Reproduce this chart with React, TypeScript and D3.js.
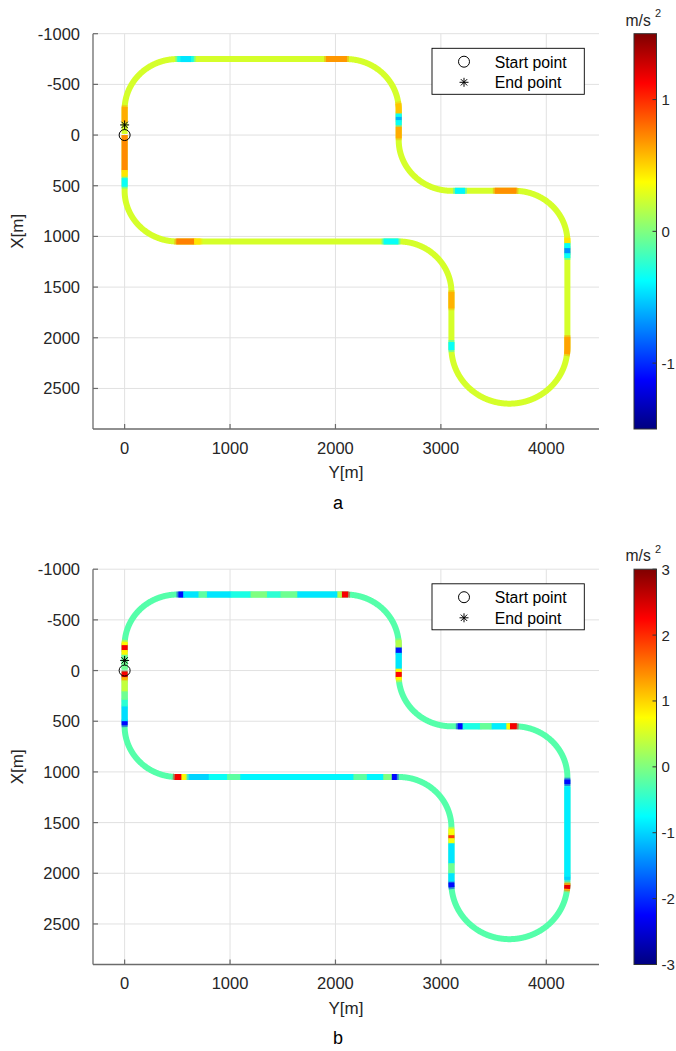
import React from 'react';
import * as d3 from 'd3';

// ---------- data ----------
const xTicks = [0, 1000, 2000, 3000, 4000];
const yTicks = [-1000, -500, 0, 500, 1000, 1500, 2000, 2500];
const xDomain: [number, number] = [-300, 4500];
const yDomain: [number, number] = [-1000, 2900];

// track geometry: points are [Y, X] in metres; arc angles in degrees (Y = cY + r cos a, X = cX + r sin a)
type Seg =
  | { kind: 'line'; from: [number, number]; to: [number, number] }
  | { kind: 'arc'; c: [number, number]; r: number; a0: number; a1: number };

const trackSegments: Seg[] = [
  { kind: 'line', from: [0, 0], to: [0, 550] },
  { kind: 'arc', c: [500, 550], r: 500, a0: 180, a1: 90 },
  { kind: 'line', from: [500, 1050], to: [2600, 1050] },
  { kind: 'arc', c: [2600, 1550], r: 500, a0: -90, a1: 0 },
  { kind: 'line', from: [3100, 1550], to: [3100, 2100] },
  { kind: 'arc', c: [3650, 2100], r: 550, a0: 180, a1: 0 },
  { kind: 'line', from: [4200, 2100], to: [4200, 1050] },
  { kind: 'arc', c: [3700, 1050], r: 500, a0: 0, a1: -90 },
  { kind: 'line', from: [3700, 550], to: [3100, 550] },
  { kind: 'arc', c: [3100, 50], r: 500, a0: 90, a1: 180 },
  { kind: 'line', from: [2600, 50], to: [2600, -250] },
  { kind: 'arc', c: [2100, -250], r: 500, a0: 0, a1: -90 },
  { kind: 'line', from: [2100, -750], to: [500, -750] },
  { kind: 'arc', c: [500, -250], r: 500, a0: -90, a1: -180 },
  { kind: 'line', from: [0, -250], to: [0, -10] },
];

const startPoint: [number, number] = [0, 0];
const endPoint: [number, number] = [0, -100];

// acceleration profile: [segment index, from (m along segment), to (m), value m/s^2]
const baseA = 0.25;
const eventsA: [number, number, number, number][] = [
  [0, 0, 345, 0.72],
  [0, 345, 410, 0.45],
  [0, 425, 510, -0.35],
  [2, -10, 160, 0.75],
  [2, 160, 220, 0.45],
  [2, 1956, 2098, -0.35],
  [4, -3, 161, 0.6],
  [4, 491, 572, -0.35],
  [6, -62, 109, 0.65],
  [6, 886, 935, -0.35],
  [6, 935, 985, -0.7],
  [6, 985, 1034, -0.35],
  [6, 1034, 1083, 0.45],
  [8, -18, 189, 0.7],
  [8, 471, 566, -0.4],
  [10, 17, 132, 0.62],
  [10, 148, 198, -0.35],
  [10, 198, 231, -0.6],
  [10, 231, 264, -0.35],
  [10, 264, 363, 0.55],
  [12, -10, 190, 0.68],
  [12, 1444, 1601, -0.3],
  [12, 1470, 1570, -0.45],
  [14, -29, 119, 0.62],
];

const baseB = -0.25;
const eventsB: [number, number, number, number][] = [
  [0, 10, 66, 2.3],
  [0, 66, 99, 1.2],
  [0, 99, 207, 0.4],
  [0, 207, 289, -0.1],
  [0, 289, 355, -0.5],
  [0, 355, 500, -0.95],
  [0, 500, 540, -2.2],
  [2, -25, 40, 2.3],
  [2, 40, 80, 0.8],
  [2, 109, 299, -1.0],
  [2, 299, 472, -0.7],
  [2, 472, 598, -0.2],
  [2, 598, 1672, -0.8],
  [2, 1672, 1798, -0.2],
  [2, 1798, 1955, -0.8],
  [2, 1955, 2035, 0.0],
  [2, 2035, 2082, -2.2],
  [4, 10, 75, 0.7],
  [4, 75, 105, 1.9],
  [4, 105, 155, 0.7],
  [4, 155, 352, -0.9],
  [4, 352, 450, -0.1],
  [4, 450, 532, -0.9],
  [4, 542, 588, -2.2],
  [5, 1660, 1675, 1.2],
  [5, 1675, 1715, 2.4],
  [5, 1715, 1728, 1.2],
  [6, 35, 68, -1.0],
  [6, 68, 956, -0.85],
  [6, 979, 1025, -2.2],
  [8, -20, 45, 2.3],
  [8, 45, 80, 0.8],
  [8, 80, 220, -0.85],
  [8, 220, 330, -0.15],
  [8, 330, 495, -0.6],
  [8, 495, 540, -2.2],
  [9, 740, 773, 0.8],
  [10, -12, 37, 2.2],
  [10, 37, 70, 0.8],
  [10, 70, 225, -0.9],
  [10, 225, 278, -2.1],
  [10, 280, 350, 0.3],
  [12, -20, 40, 2.3],
  [12, 40, 83, 0.3],
  [12, 83, 463, -0.9],
  [12, 463, 623, -0.1],
  [12, 623, 750, -0.5],
  [12, 750, 907, 0.0],
  [12, 907, 1096, -0.6],
  [12, 1096, 1320, -0.9],
  [12, 1320, 1400, -0.2],
  [12, 1400, 1545, -0.9],
  [12, 1545, 1590, -2.2],
  [14, -35, 0, 0.8],
  [14, 0, 48, 2.3],
  [14, 48, 95, 0.8],
  [14, 95, 240, -0.1],
];

const colorDomainA: [number, number] = [-1.5, 1.5];
const colorTicksA = [-1, 0, 1];
const colorDomainB: [number, number] = [-3, 3];
const colorTicksB = [-3, -2, -1, 0, 1, 2, 3];

// ---------- geometry helpers ----------
const segLen = (s: Seg) =>
  s.kind === 'line'
    ? Math.hypot(s.to[0] - s.from[0], s.to[1] - s.from[1])
    : (s.r * Math.abs(s.a1 - s.a0) * Math.PI) / 180;
const lens = trackSegments.map(segLen);
const starts: number[] = [];
lens.reduce((acc, l) => {
  starts.push(acc);
  return acc + l;
}, 0);
const totalLen = d3.sum(lens);

function pointAt(sAbs: number): [number, number] {
  const s = Math.max(0, Math.min(totalLen, sAbs));
  let i = 0;
  while (i < trackSegments.length - 1 && s > starts[i] + lens[i]) i++;
  const seg = trackSegments[i];
  const t = (s - starts[i]) / lens[i];
  if (seg.kind === 'line') {
    return [seg.from[0] + (seg.to[0] - seg.from[0]) * t, seg.from[1] + (seg.to[1] - seg.from[1]) * t];
  }
  const a = ((seg.a0 + (seg.a1 - seg.a0) * t) * Math.PI) / 180;
  return [seg.c[0] + seg.r * Math.cos(a), seg.c[1] + seg.r * Math.sin(a)];
}

function samplesBetween(s0: number, s1: number): [number, number][] {
  const a = Math.max(0, s0);
  const b = Math.min(totalLen, s1);
  const pts: [number, number][] = [];
  const n = Math.max(2, Math.ceil((b - a) / 4));
  for (let k = 0; k <= n; k++) pts.push(pointAt(a + ((b - a) * k) / n));
  return pts;
}

function jet(t: number) {
  const c = (v: number) => Math.max(0, Math.min(1, v));
  const x = c(t);
  const r = c(Math.min(4 * x - 1.5, -4 * x + 4.5));
  const g = c(Math.min(4 * x - 0.5, -4 * x + 3.5));
  const b = c(Math.min(4 * x + 0.5, -4 * x + 2.5));
  return d3.rgb(r * 255, g * 255, b * 255).formatHex();
}

// ---------- layout ----------
const FONT = "'Liberation Sans', Arial, Helvetica, sans-serif";
const TXT = '#262626';
const plotL = 93;
const plotR = 599;
const plotT = 33.7;
const plotB = 429;
const panelShift = 535.5;
const cbL = 634;
const cbR = 656.5;

function StarMarker({ x, y, s }: { x: number; y: number; s: number }) {
  const d = s * 0.7071;
  return (
    <g stroke="#000" strokeWidth={1}>
      <line x1={x - s} y1={y} x2={x + s} y2={y} />
      <line x1={x} y1={y - s} x2={x} y2={y + s} />
      <line x1={x - d} y1={y - d} x2={x + d} y2={y + d} />
      <line x1={x - d} y1={y + d} x2={x + d} y2={y - d} />
    </g>
  );
}

function Panel({
  dy,
  base,
  events,
  cDomain,
  cTicks,
  label,
  gid,
}: {
  dy: number;
  base: number;
  events: [number, number, number, number][];
  cDomain: [number, number];
  cTicks: number[];
  label: string;
  gid: string;
}) {
  const top = plotT + dy;
  const bottom = plotB + dy;
  const x = d3.scaleLinear().domain(xDomain).range([plotL, plotR]);
  const y = d3.scaleLinear().domain(yDomain).range([top, bottom]);
  const cNorm = d3.scaleLinear().domain(cDomain).range([0, 1]).clamp(true);
  const color = (v: number) => jet(cNorm(v));
  const cy = d3.scaleLinear().domain(cDomain).range([bottom, top]);
  const line = d3
    .line<[number, number]>()
    .x((p) => x(p[0]))
    .y((p) => y(p[1]));

  const fullPath = line(samplesBetween(0, totalLen)) || '';
  const stops = d3.range(0, 65).map((k) => k / 64);

  return (
    <g>
      {/* grid */}
      {xTicks.map((t) => (
        <line key={'gx' + t} x1={x(t)} x2={x(t)} y1={top} y2={bottom} stroke="#e1e1e1" strokeWidth={1} />
      ))}
      {yTicks.map((t) => (
        <line key={'gy' + t} x1={plotL} x2={plotR} y1={y(t)} y2={y(t)} stroke="#e1e1e1" strokeWidth={1} />
      ))}
      {/* track */}
      <path d={fullPath} fill="none" stroke={color(base)} strokeWidth={6} strokeLinejoin="round" />
      {events.map(([si, a, b, v], i) => (
        <path
          key={'halo' + i}
          d={line(samplesBetween(starts[si] + a - 18, starts[si] + b + 18)) || ''}
          fill="none"
          stroke={color(v)}
          strokeOpacity={0.45}
          strokeWidth={6}
          strokeLinecap="butt"
        />
      ))}
      {events.map(([si, a, b, v], i) => (
        <path
          key={'ev' + i}
          d={line(samplesBetween(starts[si] + a, starts[si] + b)) || ''}
          fill="none"
          stroke={color(v)}
          strokeWidth={6}
          strokeLinecap="butt"
        />
      ))}
      {/* start / end markers */}
      <circle cx={x(startPoint[0])} cy={y(startPoint[1])} r={5.5} fill="none" stroke="#000" strokeWidth={1} />
      <StarMarker x={x(endPoint[0])} y={y(endPoint[1])} s={4.5} />
      {/* axes */}
      <line x1={plotL} x2={plotR} y1={bottom} y2={bottom} stroke="#6b6b6b" strokeWidth={1.3} />
      <line x1={plotL} x2={plotL} y1={top} y2={bottom} stroke="#6b6b6b" strokeWidth={1.3} />
      {xTicks.map((t) => (
        <g key={'tx' + t}>
          <line x1={x(t)} x2={x(t)} y1={bottom} y2={bottom - 5} stroke="#6b6b6b" strokeWidth={1.2} />
          <text x={x(t)} y={bottom + 24.5} textAnchor="middle" fontSize={16.5} fill={TXT} fontFamily={FONT}>
            {t}
          </text>
        </g>
      ))}
      {yTicks.map((t) => (
        <g key={'ty' + t}>
          <line x1={plotL} x2={plotL + 5} y1={y(t)} y2={y(t)} stroke="#6b6b6b" strokeWidth={1.2} />
          <text x={80} y={y(t) + 6} textAnchor="end" fontSize={16.5} fill={TXT} fontFamily={FONT}>
            {t}
          </text>
        </g>
      ))}
      <text x={(plotL + plotR) / 2} y={bottom + 49} textAnchor="middle" fontSize={17} fill={TXT} fontFamily={FONT}>
        Y[m]
      </text>
      <text
        transform={`translate(23,${(top + bottom) / 2}) rotate(-90)`}
        textAnchor="middle"
        fontSize={17}
        fill={TXT}
        fontFamily={FONT}
      >
        X[m]
      </text>
      <text x={338} y={bottom + 79.5} textAnchor="middle" fontSize={18} fill="#000" fontFamily={FONT}>
        {label}
      </text>
      {/* legend */}
      <rect x={432} y={48.3 + dy} width={152.3} height={46} fill="#fff" stroke="#000" strokeWidth={0.9} />
      <circle cx={464} cy={61.7 + dy} r={5.5} fill="none" stroke="#000" strokeWidth={1} />
      <StarMarker x={464} y={82.3 + dy} s={4.5} />
      <text x={494.7} y={67.5 + dy} fontSize={15.8} fill="#000" fontFamily={FONT}>
        Start point
      </text>
      <text x={494.7} y={88 + dy} fontSize={15.8} fill="#000" fontFamily={FONT}>
        End point
      </text>
      {/* colorbar */}
      <defs>
        <linearGradient id={gid} x1="0" y1="1" x2="0" y2="0">
          {stops.map((s) => (
            <stop key={s} offset={s} stopColor={jet(s)} />
          ))}
        </linearGradient>
      </defs>
      <rect x={cbL} y={top} width={cbR - cbL} height={bottom - top} fill={`url(#${gid})`} stroke="#333" strokeWidth={1} />
      {cTicks.map((t) => (
        <g key={'ct' + t}>
          <line x1={cbR - 4} x2={cbR} y1={cy(t)} y2={cy(t)} stroke="#333" strokeWidth={1} />
          <text x={661.5} y={cy(t) + 5.5} fontSize={15} fill={TXT} fontFamily={FONT}>
            {t}
          </text>
        </g>
      ))}
      <text x={625.5} y={25.5 + dy} fontSize={15.7} fill={TXT} fontFamily={FONT}>
        m/s
      </text>
      <text x={655} y={17 + dy} fontSize={11} fill={TXT} fontFamily={FONT}>
        2
      </text>
    </g>
  );
}

export default function App() {
  return (
    <svg
      width={676}
      height={1051}
      viewBox="0 0 676 1051"
      style={{ position: 'absolute', left: 0, top: 0, background: '#fff' }}
    >
      <rect x={0} y={0} width={676} height={1051} fill="#fff" />
      <Panel dy={0} base={baseA} events={eventsA} cDomain={colorDomainA} cTicks={colorTicksA} label="a" gid="cbA" />
      <Panel
        dy={panelShift}
        base={baseB}
        events={eventsB}
        cDomain={colorDomainB}
        cTicks={colorTicksB}
        label="b"
        gid="cbB"
      />
    </svg>
  );
}
